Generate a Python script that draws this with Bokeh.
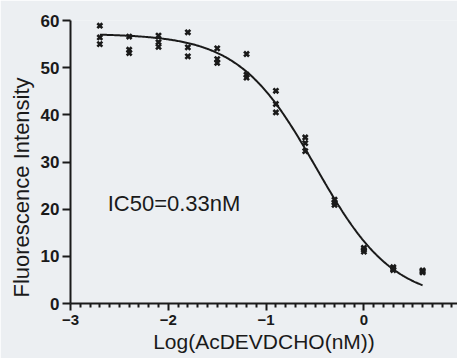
import numpy as np
from bokeh.plotting import figure
from bokeh.models import FixedTicker, Range1d, Label, Title
from bokeh.embed import file_html
from bokeh.resources import INLINE

# Data (log concentration, triplicate fluorescence readings)
log_conc = [-2.7, -2.4, -2.1, -1.8, -1.5, -1.2, -0.9, -0.6, -0.3, 0.0, 0.3, 0.6]
rep1 = [58.9, 56.6, 56.8, 57.5, 54.1, 52.9, 45.1, 35.2, 22.0, 11.8, 7.7, 7.0]
rep2 = [56.4, 53.8, 55.4, 54.3, 51.8, 48.5, 42.3, 34.0, 21.4, 11.4, 7.4, 6.8]
rep3 = [55.0, 53.1, 54.4, 52.4, 51.0, 47.9, 40.5, 32.3, 20.9, 11.0, 7.1, 6.6]

# Fitted four-parameter logistic curve
fit_top = 57.2
fit_bottom = 0.5
fit_log_ic50 = -0.49
fit_hill = 1.1

x_major = [-3, -2, -1, 0]
y_major = [0, 10, 20, 30, 40, 50, 60]

BG = "#eceff2"
INK = "#1a1a1a"

W, H = 457, 358
p = figure(width=W, height=H, output_backend="svg", toolbar_location=None,
           x_range=Range1d(-3, 0.957), y_range=Range1d(0, 60),
           min_border_left=70, min_border_right=0, min_border_top=20, min_border_bottom=55)
p.background_fill_color = BG
p.border_fill_color = BG
p.outline_line_color = None
p.xgrid.grid_line_color = None
p.ygrid.grid_line_color = None

xs = []
ys = []
for r in (rep1, rep2, rep3):
    xs.extend(log_conc)
    ys.extend(r)

xc = np.linspace(min(log_conc), max(log_conc), 300)
yc = fit_bottom + (fit_top - fit_bottom) / (1 + 10 ** ((xc - fit_log_ic50) * fit_hill))
p.line(xc, yc, line_color=INK, line_width=2)
p.scatter(xs, ys, marker="x", size=7, line_width=2.6, line_color=INK)

minor = [round(-3 + 0.1 * i, 1) for i in range(0, 40) if i % 10 != 0]
p.xaxis.ticker = FixedTicker(ticks=x_major, minor_ticks=minor)
p.yaxis.ticker = FixedTicker(ticks=y_major, minor_ticks=[])

for ax in (p.xaxis[0], p.yaxis[0]):
    ax.axis_line_width = 2
    ax.axis_line_color = INK
    ax.major_tick_line_width = 2
    ax.major_tick_line_color = INK
    ax.minor_tick_line_width = 2
    ax.minor_tick_line_color = INK
    ax.major_tick_in = 0
    ax.minor_tick_in = 0
    ax.major_label_text_font = "Liberation Sans"
    ax.major_label_text_font_style = "bold"
    ax.major_label_text_color = INK

p.xaxis.major_tick_out = 7
p.xaxis.minor_tick_out = 4
p.xaxis.major_label_text_font_size = "15px"
p.xaxis.major_label_standoff = 4

p.yaxis.major_tick_out = 8
p.yaxis.minor_tick_out = 0
p.yaxis.major_label_text_font_size = "17px"
p.yaxis.major_label_standoff = 3

# Axis titles as side-panel titles
p.add_layout(Title(text="Log(AcDEVDCHO(nM))", align="center", standoff=0,
                   text_font="Liberation Sans", text_font_size="21px",
                   text_font_style="normal", text_color=INK), "below")
p.add_layout(Title(text="Fluorescence Intensity", align="left", offset=6, standoff=8,
                   text_font="Liberation Sans", text_font_size="22px",
                   text_font_style="normal", text_color=INK), "left")

p.add_layout(Label(x=-2.62, y=21.2, text="IC50=0.33nM", text_font="Liberation Sans",
                   text_font_size="22px", text_color=INK, text_baseline="middle"))

open("out.html", "w").write(file_html(p, INLINE))
